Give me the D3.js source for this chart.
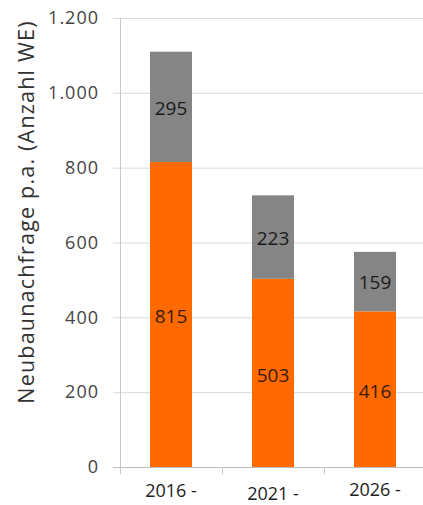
<!DOCTYPE html>
<html>
<head>
<meta charset="utf-8">
<script src="https://cdn.jsdelivr.net/npm/d3@7"></script>
<style>
  body { margin: 0; background: #fff; }
  svg { display: block; font-family: "Open Sans", sans-serif; }
</style>
</head>
<body>
<svg id="chart" width="423" height="505"></svg>
<script>
// periods on the x axis (only first line visible in the picture)
let periods = ["2016 -", "2021 -", "2026 -"];
// lower (orange) and upper (grey) segments
let orangeValues = [815, 503, 416];
let greyValues = [295, 223, 159];
let yTicks = [0, 200, 400, 600, 800, 1000, 1200];

let svg = d3.select("#chart");

let x = d3.scaleBand()
    .domain(periods)
    .range([120, 426])
    .paddingInner(0)
    .paddingOuter(0);

let y = d3.scaleLinear()
    .domain([0, 1200])
    .range([467, 18]);

let fmt = function (v) {
    return d3.format(",")(v).replace(/,/g, ".");
};

// gridlines
svg.append("g")
    .selectAll("line")
    .data(yTicks)
    .enter()
    .append("line")
    .attr("x1", 113)
    .attr("x2", 423)
    .attr("y1", d => y(d) + 0.5)
    .attr("y2", d => y(d) + 0.5)
    .attr("stroke", d => d === 0 ? "#bdbdbd" : "#d9d9d9")
    .attr("stroke-width", 1);

// vertical axis line
svg.append("line")
    .attr("x1", 120.5).attr("x2", 120.5)
    .attr("y1", y(1200)).attr("y2", y(0) + 7)
    .attr("stroke", "#c8c8c8");

// category separators on the x axis
svg.append("g")
    .selectAll("line")
    .data(periods.slice(1))
    .enter()
    .append("line")
    .attr("x1", d => Math.round(x(d)) + 0.5)
    .attr("x2", d => Math.round(x(d)) + 0.5)
    .attr("y1", y(0))
    .attr("y2", y(0) + 7)
    .attr("stroke", "#c8c8c8");

// y tick labels
svg.append("g")
    .selectAll("text")
    .data(yTicks)
    .enter()
    .append("text")
    .attr("x", 99)
    .attr("y", d => y(d))
    .attr("dy", "0.35em")
    .attr("text-anchor", "end")
    .attr("font-size", 18)
    .attr("letter-spacing", 1)
    .attr("fill", "#444")
    .text(fmt);

// y axis title
svg.append("text")
    .attr("transform", "translate(26,212) rotate(-90)")
    .attr("text-anchor", "middle")
    .attr("dy", "0.35em")
    .attr("font-size", 21.5)
    .attr("letter-spacing", 1.2)
    .attr("fill", "#333")
    .text("Neubaunachfrage p.a. (Anzahl WE)");

let barW = 42;
let barX = function (d) {
    return x(d) + x.bandwidth() / 2 - barW / 2;
};

let rows = periods.map(function (p, i) {
    return { period: p, low: orangeValues[i], high: greyValues[i] };
});

// orange segments
svg.append("g")
    .selectAll("rect")
    .data(rows)
    .enter()
    .append("rect")
    .attr("x", d => barX(d.period))
    .attr("width", barW)
    .attr("y", d => y(d.low))
    .attr("height", d => y(0) - y(d.low))
    .attr("fill", "#ff6a00");

// grey segments
svg.append("g")
    .selectAll("rect")
    .data(rows)
    .enter()
    .append("rect")
    .attr("x", d => barX(d.period))
    .attr("width", barW)
    .attr("y", d => y(d.low + d.high))
    .attr("height", d => y(d.low) - y(d.low + d.high))
    .attr("fill", "#858585");

// segment labels
svg.append("g")
    .selectAll("text")
    .data(rows)
    .enter()
    .append("text")
    .attr("x", d => x(d.period) + x.bandwidth() / 2)
    .attr("y", d => (y(0) + y(d.low)) / 2 + 2)
    .attr("dy", "0.35em")
    .attr("text-anchor", "middle")
    .attr("font-size", 19)
    .attr("fill", "#3a1a08")
    .text(d => d.low);

svg.append("g")
    .selectAll("text")
    .data(rows)
    .enter()
    .append("text")
    .attr("x", d => x(d.period) + x.bandwidth() / 2)
    .attr("y", d => (y(d.low) + y(d.low + d.high)) / 2 + 1)
    .attr("dy", "0.35em")
    .attr("text-anchor", "middle")
    .attr("font-size", 19)
    .attr("fill", "#1a1a1a")
    .text(d => d.high);

// x category labels (slightly uneven in the source)
let labelY = [491, 494, 490];
svg.append("g")
    .selectAll("text")
    .data(periods)
    .enter()
    .append("text")
    .attr("x", d => x(d) + x.bandwidth() / 2)
    .attr("y", (d, i) => labelY[i])
    .attr("dy", "0.35em")
    .attr("text-anchor", "middle")
    .attr("font-size", 18)
    .attr("fill", "#222")
    .text(d => d);
</script>
</body>
</html>
